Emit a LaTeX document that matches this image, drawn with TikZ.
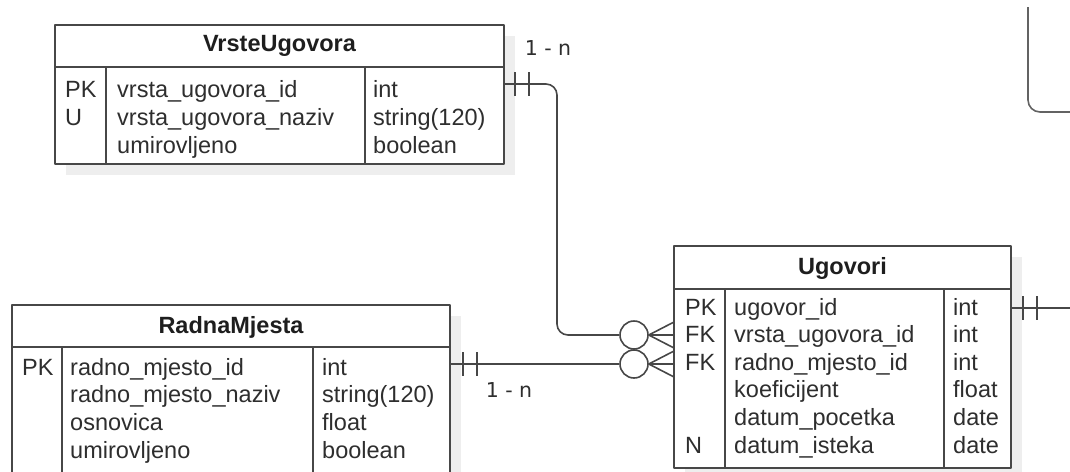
\documentclass[tikz,border=0pt]{standalone}
\usepackage{fontspec}
\setmainfont{Liberation Sans}
\newfontfamily\lblfont{DejaVu Sans}
\usetikzlibrary{shadows}
\definecolor{edgec}{HTML}{474747}
\definecolor{txtc}{HTML}{2E2E2E}
\definecolor{hdrc}{HTML}{1E1E1E}
\definecolor{shadec}{HTML}{EEEEEE}
\begin{document}
\begin{tikzpicture}[x=1pt,y=-1pt,line join=round,
  tbl/.style={draw=edgec, line width=1.7pt, fill=white, inner sep=0pt,
    drop shadow={shadow xshift=11pt, shadow yshift=-11pt, fill=shadec, draw=none, opacity=1}},
  inner/.style={draw=edgec, line width=1.7pt},
  conn/.style={draw=edgec, line width=1.6pt},
  txt/.style={text=txtc, inner sep=0pt, anchor=base west, font=\fontsize{23.5}{28}\selectfont},
  hdr/.style={text=hdrc, inner sep=0pt, anchor=base, font=\fontsize{23.5}{28}\selectfont\bfseries},
  lbl/.style={text=txtc, inner sep=0pt, font=\lblfont\fontsize{20.5}{24}\selectfont},
  ring/.style={circle, draw=edgec, line width=1.6pt, fill=white, minimum size=28pt, inner sep=0pt}]
\useasboundingbox (0,0) rectangle (1070,471);

% ---------- VrsteUgovora ----------
\node[tbl, minimum width=449pt, minimum height=139pt] (vu) at (279.5,94.5) {};
\draw[inner] (55,67) -- (504,67);
\draw[inner] (106,67) -- (106,164);
\draw[inner] (365,67) -- (365,164);
\node[hdr] (vu-h) at (279.5,51) {VrsteUgovora};
\foreach \ka/\na/\ty [count=\i] in {PK/vrsta\_ugovora\_id/int, U/vrsta\_ugovora\_naziv/string(120), /umirovljeno/boolean}{
  \node[txt] (vu-k\i) at (65,{97+(\i-1)*28}) {\ka};
  \node[txt] (vu-n\i) at (117,{97+(\i-1)*28}) {\na};
  \node[txt] (vu-t\i) at (373,{97+(\i-1)*28}) {\ty};
}

% ---------- RadnaMjesta ----------
\node[tbl, minimum width=438pt, minimum height=190pt] (rm) at (231,400) {};
\draw[inner] (12,347) -- (450,347);
\draw[inner] (62,347) -- (62,495);
\draw[inner] (313,347) -- (313,495);
\node[hdr] (rm-h) at (231,333) {RadnaMjesta};
\foreach \ka/\na/\ty [count=\i] in {PK/radno\_mjesto\_id/int, /radno\_mjesto\_naziv/string(120), /osnovica/float, /umirovljeno/boolean}{
  \node[txt] (rm-k\i) at (22,{375+(\i-1)*27.8}) {\ka};
  \node[txt] (rm-n\i) at (70,{375+(\i-1)*27.8}) {\na};
  \node[txt] (rm-t\i) at (322,{375+(\i-1)*27.8}) {\ty};
}

% ---------- Ugovori ----------
\node[tbl, minimum width=337pt, minimum height=222pt] (ug) at (842.5,357) {};
\draw[inner] (674,289) -- (1011,289);
\draw[inner] (725,289) -- (725,468);
\draw[inner] (944,289) -- (944,468);
\node[hdr] (ug-h) at (842.5,274) {Ugovori};
\foreach \ka/\na/\ty [count=\i] in {PK/ugovor\_id/int, FK/vrsta\_ugovora\_id/int, FK/radno\_mjesto\_id/int, /koeficijent/float, /datum\_pocetka/date, N/datum\_isteka/date}{
  \node[txt] (ug-k\i) at (685,{315+(\i-1)*27.6}) {\ka};
  \node[txt] (ug-n\i) at (734,{315+(\i-1)*27.6}) {\na};
  \node[txt] (ug-t\i) at (953,{315+(\i-1)*27.6}) {\ty};
}

% ---------- connector anchors ----------
\coordinate (vu-p) at (504,84);
\coordinate (rm-p) at (450,364);
\coordinate (ug-f1) at (674,335);
\coordinate (ug-f2) at (674,364);
\coordinate (ug-p) at (1011,308);
\coordinate (ug-out) at (1076,308);
\coordinate (tr-a) at (1028,7);
\coordinate (tr-b) at (1076,112);

\node[ring] (c1) at (634,335) {};
\node[ring] (c2) at (634,364) {};

% VrsteUgovora -> Ugovori
\draw[conn, rounded corners=11pt] (vu-p) -- (557,84) -- (557,335) -- (c1.west);
\draw[conn] ([xshift=11pt,yshift=12pt]vu-p) -- ([xshift=11pt,yshift=-12pt]vu-p);
\draw[conn] ([xshift=25pt,yshift=12pt]vu-p) -- ([xshift=25pt,yshift=-12pt]vu-p);
\draw[conn] (c1.east) -- (ug-f1);
\draw[conn] (c1.east) -- ([yshift=13pt]ug-f1);
\draw[conn] (c1.east) -- ([yshift=-13pt]ug-f1);

% RadnaMjesta -> Ugovori
\draw[conn] (rm-p) -- (c2.west);
\draw[conn] ([xshift=13pt,yshift=12pt]rm-p) -- ([xshift=13pt,yshift=-12pt]rm-p);
\draw[conn] ([xshift=27pt,yshift=12pt]rm-p) -- ([xshift=27pt,yshift=-12pt]rm-p);
\draw[conn] (c2.east) -- (ug-f2);
\draw[conn] (c2.east) -- ([yshift=13pt]ug-f2);
\draw[conn] (c2.east) -- ([yshift=-13pt]ug-f2);

% Ugovori -> (off picture)
\draw[conn] (ug-p) -- (ug-out);
\draw[conn] ([xshift=12pt,yshift=12pt]ug-p) -- ([xshift=12pt,yshift=-12pt]ug-p);
\draw[conn] ([xshift=26pt,yshift=12pt]ug-p) -- ([xshift=26pt,yshift=-12pt]ug-p);

% top-right partial connector
\draw[conn, draw=edgec!85, rounded corners=12pt] (tr-a) -- (1028,112) -- (tr-b);

% labels
\node[lbl] (l1) at (548,48) {1 - n};
\node[lbl] (l2) at (509,390) {1 - n};
\end{tikzpicture}
\end{document}
